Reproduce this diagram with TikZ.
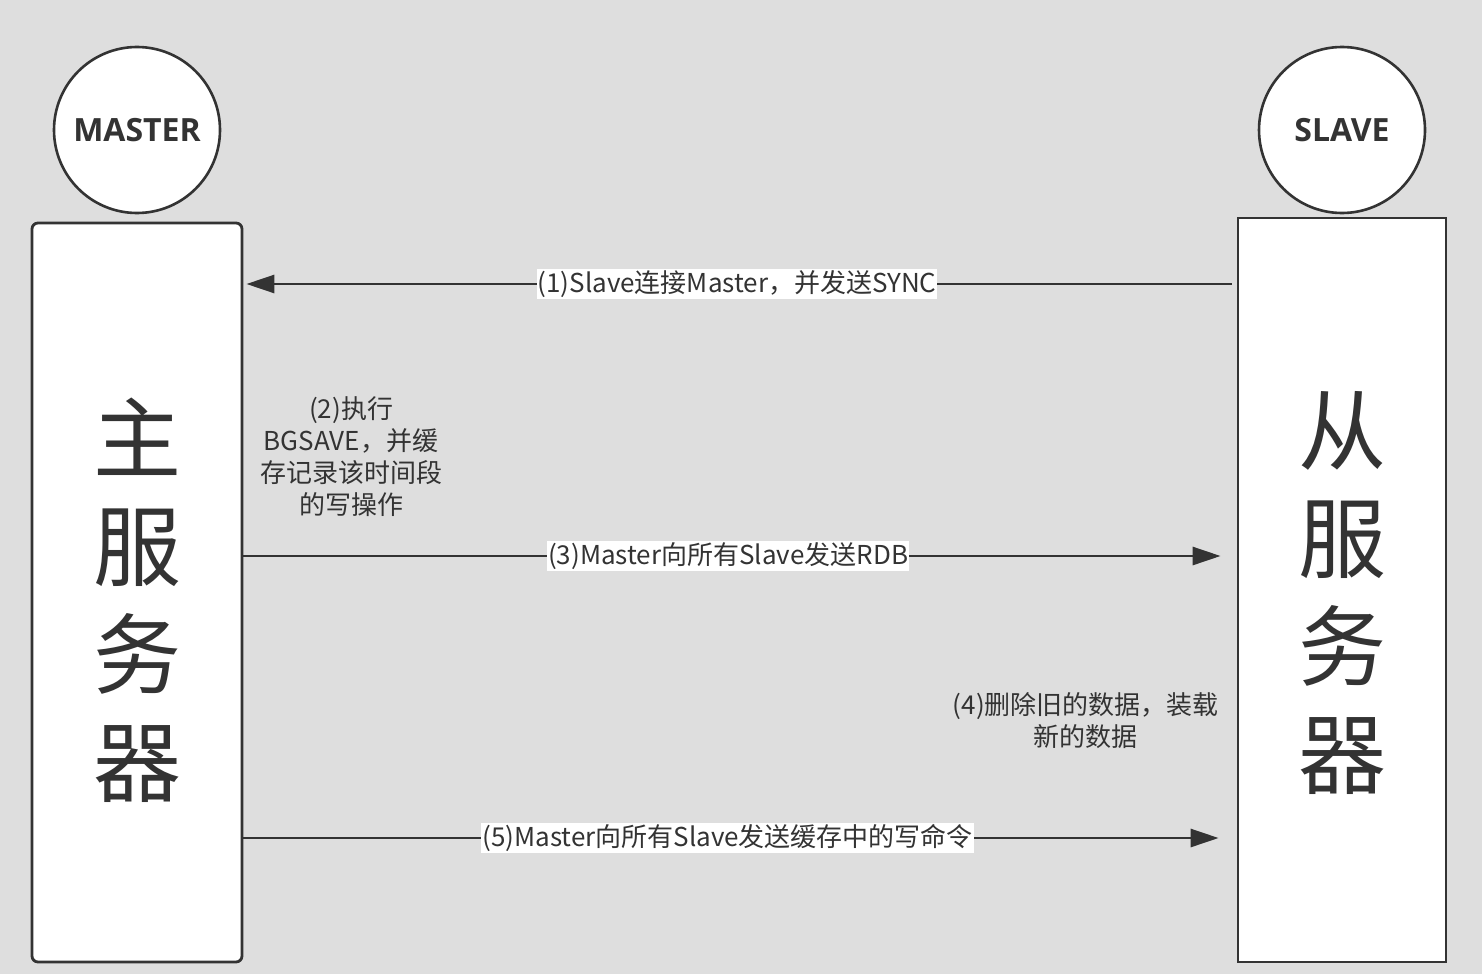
\documentclass[tikz,border=0pt]{standalone}
\usepackage{fontspec}
\setmainfont{Noto Sans CJK SC}
\newfontfamily\latbold{Open Sans}
\usetikzlibrary{arrows.meta}
\definecolor{bgc}{HTML}{DEDEDE}
\definecolor{ink}{HTML}{333333}
\tikzset{
  circ/.style={circle, draw=ink, fill=white, line width=2.6pt, minimum size=166pt, inner sep=0pt,
    font=\latbold\bfseries\fontsize{32}{36}\selectfont, text=ink},
  srvbox/.style={draw=ink, fill=white, line width=2.8pt, inner sep=0pt},
  big/.style={font=\fontsize{88}{108}\selectfont, align=center, text=ink, inner sep=0pt},
  arr/.style={draw=ink, line width=2.8pt, -{Triangle[length=28pt,width=18pt]}},
  lab/.style={fill=white, inner sep=1pt, font=\fontsize{26}{30}\selectfont, text=ink},
  note/.style={align=center, font=\fontsize{26}{32}\selectfont, text=ink, inner sep=0pt}
}
\begin{document}
\begin{tikzpicture}[x=1pt,y=-1pt]
\fill[bgc] (0,0) rectangle (1482,974);
\useasboundingbox (0,0) rectangle (1482,974);
% boxes
\node[srvbox, rounded corners=6pt, minimum width=210pt, minimum height=739pt] (mb) at (137,592.5) {};
\node[srvbox, minimum width=208pt, minimum height=744pt] (sb) at (1342,590) {};
% circles
\node[circ] (mc) at (137,130) {MASTER};
\node[circ] (sc) at (1342,130) {SLAVE};
% big text
\node[big] (mt) at (137,600) {主\\服\\务\\器};
\node[big] (st) at (1342,593) {从\\服\\务\\器};
% arrows
\coordinate (y1) at (0,284);
\coordinate (y3) at (0,556);
\coordinate (y5) at (0,838);
\draw[arr, shorten <=5pt, shorten >=3pt] (sb.west|-y1) -- node[lab, pos=0.503] (l1) {(1)Slave连接Master，并发送SYNC} (mb.east|-y1);
\draw[arr, shorten <=-1pt, shorten >=16pt] (mb.east|-y3) -- node[lab, pos=0.488] (l3) {(3)Master向所有Slave发送RDB} (sb.west|-y3);
\draw[arr, shorten <=0pt, shorten >=18pt] (mb.east|-y5) -- node[lab, pos=0.4875] (l5) {(5)Master向所有Slave发送缓存中的写命令} (sb.west|-y5);
% notes
\node[note] (n2) at (351,457) {(2)执行\\BGSAVE，并缓\\存记录该时间段\\的写操作};
\node[note, anchor=east] (n4) at (1219,721) {(4)删除旧的数据，装载\\新的数据};
\end{tikzpicture}
\end{document}
